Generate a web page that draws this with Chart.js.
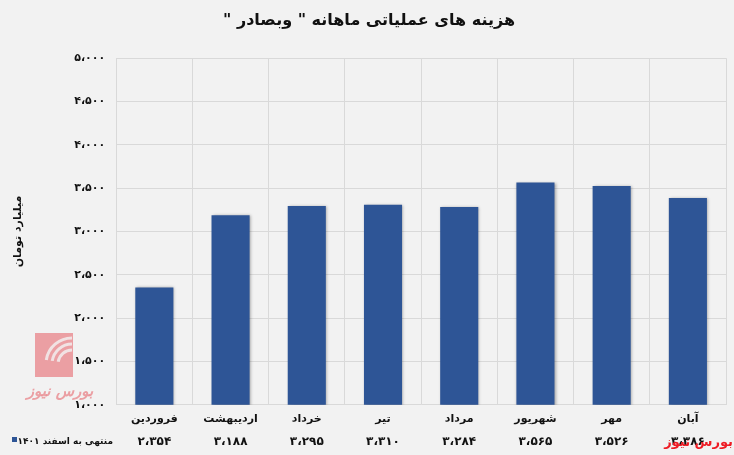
<!DOCTYPE html>
<html>
<head>
<meta charset="utf-8">
<script src="https://cdn.jsdelivr.net/npm/chart.js@4.4.0/dist/chart.umd.min.js"></script>
<style>
  html, body { margin: 0; padding: 0; background: #f2f2f2; }
  #wrap { width: 734px; height: 455px; position: relative; }
</style>
</head>
<body>
<div id="wrap"><canvas id="costChart" dir="rtl"></canvas></div>
<script>
// monthly operating costs (billion toman), to end of Esfand 1401
const months = ['فروردین', 'اردیبهشت', 'خرداد', 'تیر', 'مرداد', 'شهریور', 'مهر', 'آبان'];
const costs = [2354, 3188, 3295, 3310, 3284, 3565, 3526, 3386];
const yTicks = [1000, 1500, 2000, 2500, 3000, 3500, 4000, 4500, 5000];
const seriesName = 'منتهی به اسفند ۱۴۰۱';
const titleText = 'هزینه های عملیاتی ماهانه " وبصادر "';
const yTitle = 'میلیارد تومان';

const barColor = '#2e5596';
const gridColor = '#d9d9d9';
const fontFamily = "'DejaVu Sans', sans-serif";

function toFa(n) {
  const digits = '۰۱۲۳۴۵۶۷۸۹';
  let s = String(n).replace(/\B(?=(\d{3})+(?!\d))/g, '،');
  return s.replace(/\d/g, d => digits[+d]);
}

// shadow under the bars
const barShadow = {
  id: 'barShadow',
  beforeDatasetDraw(chart) {
    const ctx = chart.ctx;
    ctx.save();
    ctx.shadowColor = 'rgba(0,0,0,0.35)';
    ctx.shadowBlur = 3;
    ctx.shadowOffsetX = 1;
    ctx.shadowOffsetY = 0;
  },
  afterDatasetDraw(chart) {
    chart.ctx.restore();
  }
};

// faded logo behind everything, bottom left
const logo = {
  id: 'logo',
  beforeDraw(chart) {
    const ctx = chart.ctx;
    ctx.save();
    ctx.globalAlpha = 0.8;
    ctx.fillStyle = '#e8898e';
    ctx.fillRect(35, 333, 38, 44);
    ctx.strokeStyle = '#f2f2f2';
    ctx.lineWidth = 3;
    [14, 20, 26].forEach(r => {
      ctx.beginPath();
      ctx.arc(72, 364, r, Math.PI * 1.05, Math.PI * 1.5);
      ctx.stroke();
    });
    ctx.fillStyle = '#e8898e';
    ctx.font = 'italic bold 15px ' + fontFamily;
    ctx.textAlign = 'center';
    ctx.textBaseline = 'middle';
    ctx.fillText('بورس نیوز', 60, 392);
    ctx.restore();
  }
};

// data table row under the category labels
const tableRow = {
  id: 'tableRow',
  afterDraw(chart) {
    const ctx = chart.ctx;
    const x = chart.scales.x;
    const rowY = 442;
    ctx.save();
    ctx.fillStyle = '#111';
    ctx.font = 'bold 12px ' + fontFamily;
    ctx.textAlign = 'center';
    ctx.textBaseline = 'middle';
    costs.forEach((v, i) => {
      ctx.fillText(toFa(v), x.getPixelForValue(i), rowY);
    });

    // legend key
    ctx.fillStyle = barColor;
    ctx.fillRect(12, 437, 5, 5);
    ctx.fillStyle = '#111';
    ctx.font = 'bold 9px ' + fontFamily;
    ctx.textAlign = 'right';
    ctx.fillText(seriesName, 113, rowY);

    // red site name bottom right
    ctx.fillStyle = '#ee1c25';
    ctx.font = 'bold 13px ' + fontFamily;
    ctx.textAlign = 'right';
    ctx.fillText('بورس نیوز', 733, 443);
    ctx.restore();
  }
};

new Chart(document.getElementById('costChart'), {
  type: 'bar',
  data: {
    labels: months,
    datasets: [{
      label: seriesName,
      data: costs,
      backgroundColor: barColor,
      borderWidth: 0,
      barPercentage: 0.5,
      categoryPercentage: 1.0
    }]
  },
  options: {
    responsive: true,
    maintainAspectRatio: false,
    animation: false,
    layout: { padding: { left: 12, right: 8, top: 6, bottom: 21 } },
    scales: {
      x: {
        grid: { color: gridColor, offset: true, drawTicks: false },
        border: { color: gridColor },
        ticks: {
          color: '#111',
          padding: 8,
          font: { family: fontFamily, size: 11, weight: 'bold' }
        }
      },
      y: {
        min: 1000,
        max: 5000,
        afterBuildTicks(axis) {
          axis.ticks = yTicks.map(v => ({ value: v }));
        },
        grid: { color: gridColor, drawTicks: false },
        border: { color: gridColor },
        ticks: {
          color: '#111',
          padding: 11,
          font: { family: fontFamily, size: 11, weight: 'bold' },
          callback: v => toFa(v)
        },
        title: {
          display: true,
          text: yTitle,
          color: '#111',
          padding: { top: 0, bottom: 38 },
          font: { family: fontFamily, size: 11, weight: 'bold' }
        }
      }
    },
    plugins: {
      legend: { display: false },
      tooltip: { enabled: false },
      title: {
        display: true,
        text: titleText,
        color: '#111',
        padding: { top: 5, bottom: 28 },
        font: { family: fontFamily, size: 16, weight: 'bold' }
      }
    }
  },
  plugins: [logo, barShadow, tableRow]
});
</script>
</body>
</html>
